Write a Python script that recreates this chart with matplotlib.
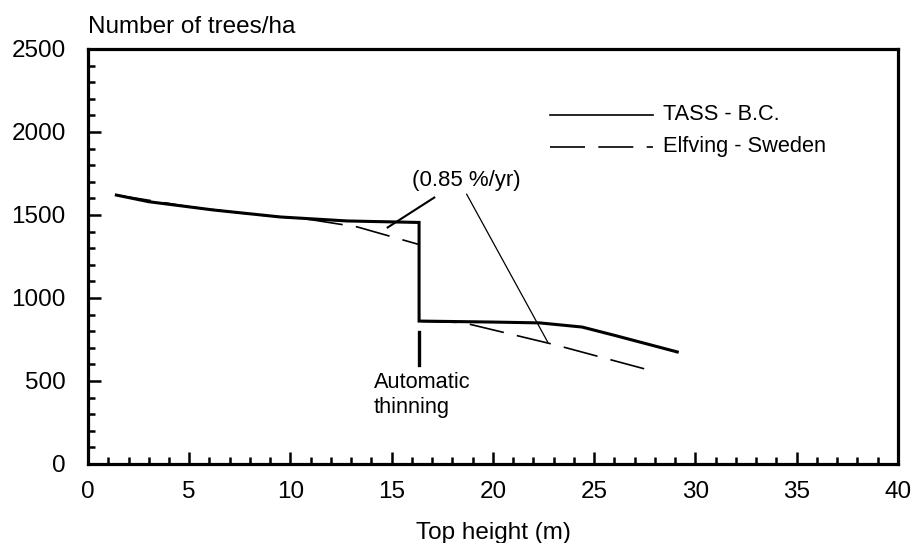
import matplotlib
matplotlib.use("Agg")
import matplotlib.pyplot as plt
from matplotlib.ticker import MultipleLocator

tass_x = [1.4, 3, 6.2, 9.5, 12.8, 16.35, 16.35, 20, 22.3, 24.4, 26, 29.1]
tass_y = [1620, 1580, 1530, 1488, 1464, 1455, 861, 855, 850, 825, 775, 675]
elf_x = [1.4, 5, 8, 11, 13.3, 16.35, 16.35, 18.5, 23, 27.7]
elf_y = [1620, 1550, 1505, 1472, 1428, 1322, 860, 852, 720, 566]

plt.rcParams['font.family'] = ['Liberation Sans', 'DejaVu Sans']
fig = plt.figure(figsize=(9.11, 5.43), dpi=100)
ax = fig.add_axes([0.0966, 0.1455, 0.8891, 0.7643])

DASH = (21, 8)
ax.plot(tass_x, tass_y, color='black', lw=2.2, solid_joinstyle='miter')
ax.plot(elf_x, elf_y, color='black', lw=1.2, dashes=DASH)

ax.set_xlim(0, 40)
ax.set_ylim(0, 2500)
ax.xaxis.set_major_locator(MultipleLocator(5))
ax.xaxis.set_minor_locator(MultipleLocator(1))
ax.yaxis.set_major_locator(MultipleLocator(500))
ax.yaxis.set_minor_locator(MultipleLocator(100))
ax.tick_params(which='both', direction='in', top=False, right=False, width=1.8, labelsize=17.5)
ax.tick_params(axis='x', which='major', pad=12)
ax.tick_params(axis='y', which='major', pad=16)
ax.tick_params(which='major', length=9)
ax.tick_params(which='minor', length=5)
for s in ax.spines.values():
    s.set_linewidth(2.3)

fig.text(0.0966, 0.950, 'Number of trees/ha', fontsize=17.5, ha='left', va='center')
ax.set_xlabel('Top height (m)', fontsize=17.5)
ax.xaxis.set_label_coords(0.5, -0.166)
ax.xaxis.label.set_va('center')

# legend
ax.plot([22.8, 27.9], [2105, 2105], color='black', lw=1.2)
ax.plot([22.8, 27.9], [1910, 1910], color='black', lw=1.2, dashes=DASH)
ax.text(28.4, 2105, 'TASS - B.C.', fontsize=15.7, va='center', ha='left')
ax.text(28.4, 1910, 'Elfving - Sweden', fontsize=15.7, va='center', ha='left')

# annotations
ax.text(18.7, 1710, '(0.85 %/yr)', fontsize=16, ha='center', va='center')
ax.plot([17.1, 14.8], [1605, 1425], color='black', lw=1.5)
ax.plot([18.7, 22.7], [1625, 735], color='black', lw=0.9)
ax.plot([16.35, 16.35], [795, 596], color='black', lw=2.4)
ax.text(14.1, 490, 'Automatic', fontsize=15.7, ha='left', va='center')
ax.text(14.1, 340, 'thinning', fontsize=15.7, ha='left', va='center')

fig.savefig('out.png', dpi=100)
